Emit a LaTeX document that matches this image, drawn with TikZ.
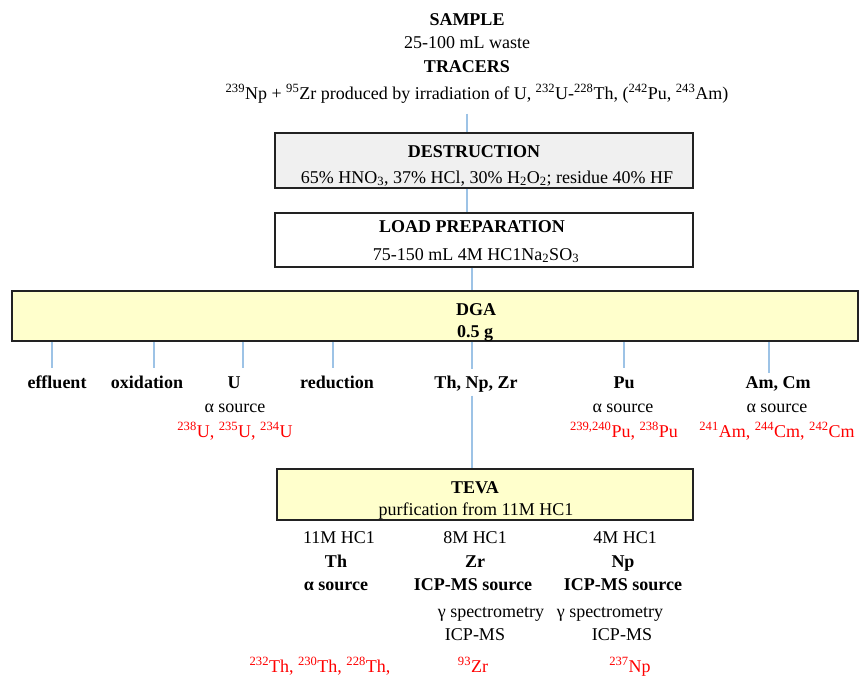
\documentclass[tikz,border=0pt]{standalone}
\usepackage{fontspec}
\setmainfont{Liberation Serif}
\usetikzlibrary{positioning, calc}
\definecolor{cline}{HTML}{9DC3E6}
\definecolor{cyellow}{HTML}{FFFFCC}
\definecolor{cgrey}{HTML}{F0F0F0}
\definecolor{cred}{HTML}{FF0000}
\definecolor{cedge}{HTML}{222222}
\tikzset{
  every picture/.style={font=\fontsize{18}{22}\selectfont, line width=1.5pt},
  box/.style={draw=cedge, fill=#1, rectangle, inner sep=0pt},
  box/.default=white,
  link/.style={draw=cline, line width=2.5pt},
  txt/.style={anchor=base, inner sep=0pt},
  head/.style={txt, font=\fontsize{18}{22}\selectfont\bfseries},
  iso/.style={txt, text=cred},
}
\newcommand{\nuc}[2]{\textsuperscript{#1}#2}

\begin{document}
\begin{tikzpicture}[x=1pt, y=-1pt]
  \useasboundingbox (0,0) rectangle (859,675);
  % sample and tracers
  \node[head] (sample) at (467,25) {SAMPLE};
  \node[txt] (waste) at (467,48) {25-100 mL waste};
  \node[head] (tracers) at (467,72) {TRACERS};
  \node[txt] (tlist) at (477,99) {\nuc{239}{Np} + \nuc{95}{Zr} produced by irradiation of U, \nuc{232}{U}-\nuc{228}{Th}, (\nuc{242}{Pu}, \nuc{243}{Am})};
  % destruction and load
  \node[box=cgrey, minimum width=418pt, minimum height=55pt] (destr) at (484,160.5) {};
  \node[head] (destrhd) at (474,157) {DESTRUCTION};
  \node[txt] (destrtx) at (487,183) {65\% HNO\textsubscript{3}, 37\% HCl, 30\% H\textsubscript{2}O\textsubscript{2}; residue 40\% HF};
  \node[box, minimum width=418pt, minimum height=54pt] (load) at (484,240) {};
  \node[head] (loadhd) at (472,232) {LOAD PREPARATION};
  \node[txt] (loadtx) at (476,260) {75-150 mL 4M HC1Na\textsubscript{2}SO\textsubscript{3}};
  % DGA column
  \node[box=cyellow, minimum width=846pt, minimum height=50pt] (dga) at (435,316) {};
  \node[head] (dgahd) at (476,315) {DGA};
  \node[head] (dgatx) at (475,337) {0.5 g};
  \draw[link] ([yshift=-10pt]sample |- tlist.south) -- (sample |- destr.north);
  \draw[link] (sample |- destr.south) -- (sample |- load.north);
  \coordinate (tload) at (472,290);
  \draw[link] (tload |- load.south) -- (tload |- dga.north);
  \foreach \n/\tx/\lx/\ty/\txt in {eff/52/57/368/effluent, oxi/154/147/368/oxidation, ur/243/234/368/U, rdc/333/337/368/reduction, thnpzr/472/476/369/{Th, Np, Zr}, pu/624/624/368/Pu, amcm/769/778/373/{Am, Cm}}{
    \node[head] (\n) at (\lx,388) {\txt};
    \coordinate (t\n) at (\tx,\ty);
    \draw[link] (t\n |- dga.south) -- (t\n);
  }
  \node[txt] (uasrc) at (235,412) {α source};
  \node[txt] (puasrc) at (623,412) {α source};
  \node[txt] (amasrc) at (777,412) {α source};
  \node[iso] (uiso) at (235,437) {\nuc{238}{U}, \nuc{235}{U}, \nuc{234}{U}};
  \node[iso] (puiso) at (624,437) {\nuc{239,240}{Pu}, \nuc{238}{Pu}};
  \node[iso] (amiso) at (777,437) {\nuc{241}{Am}, \nuc{244}{Cm}, \nuc{242}{Cm}};
  % TEVA
  \node[box=cyellow, minimum width=416pt, minimum height=51pt] (teva) at (485,494.5) {};
  \node[head] (tevahd) at (475,493) {TEVA};
  \node[txt] (tevatx) at (476,515) {purfication from 11M HC1};
  \draw[link] ([yshift=-3pt]tthnpzr |- thnpzr.south) -- (tthnpzr |- teva.north);
  % fractions
  \node[txt] (thm) at (339,543) {11M HC1};
  \node[head] (th) at (336,567) {Th};
  \node[head] (thsrc) at (336,590) {α source};
  \node[iso] (thiso) at (320,672) {\nuc{232}{Th}, \nuc{230}{Th}, \nuc{228}{Th},};
  \node[txt] (zrm) at (475,543) {8M HC1};
  \node[head] (zr) at (475,567) {Zr};
  \node[head] (zrsrc) at (473,590) {ICP-MS source};
  \node[txt] (zrgam) at (491,617) {γ spectrometry};
  \node[txt] (zrms) at (475,640) {ICP-MS};
  \node[iso] (zriso) at (473,672) {\nuc{93}{Zr}};
  \node[txt] (npm) at (625,543) {4M HC1};
  \node[head] (np) at (623,567) {Np};
  \node[head] (npsrc) at (623,590) {ICP-MS source};
  \node[txt] (npgam) at (610,617) {γ spectrometry};
  \node[txt] (npms) at (622,640) {ICP-MS};
  \node[iso] (npiso) at (630,672) {\nuc{237}{Np}};
\end{tikzpicture}
\end{document}
